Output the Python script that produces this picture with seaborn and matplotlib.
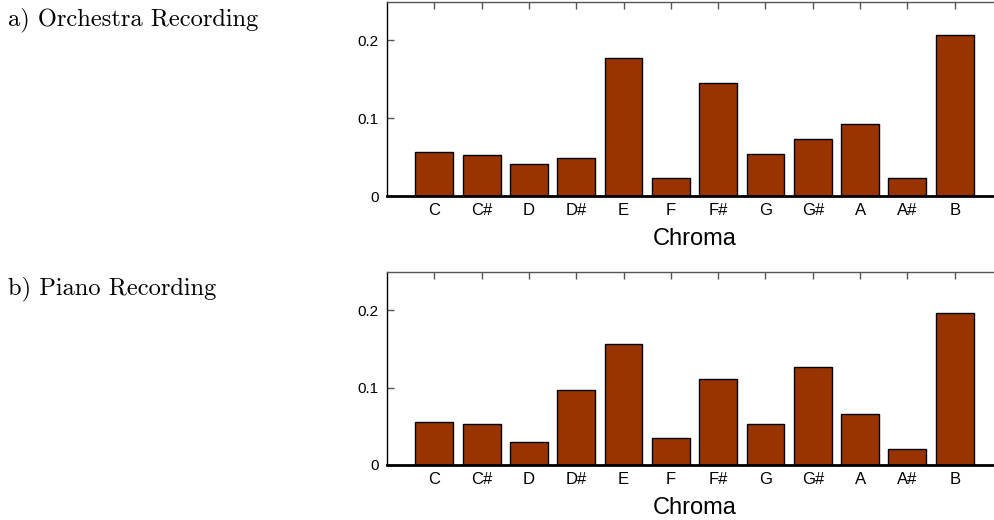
import matplotlib
matplotlib.use("Agg")
import matplotlib.pyplot as plt
import seaborn as sns
import pandas as pd

chroma = ["C", "C#", "D", "D#", "E", "F", "F#", "G", "G#", "A", "A#", "B"]
orchestra = [0.056, 0.053, 0.041, 0.049, 0.177, 0.023, 0.145, 0.054, 0.073, 0.093, 0.023, 0.207]
piano = [0.055, 0.053, 0.030, 0.097, 0.156, 0.035, 0.111, 0.053, 0.127, 0.066, 0.021, 0.196]
panel_titles = ["a) Orchestra Recording", "b) Piano Recording"]
y_ticks = [0, 0.1, 0.2]
y_tick_labels = ["0", "0.1", "0.2"]

sns.set_theme(style="white")
plt.rcParams["font.family"] = ["Liberation Sans", "DejaVu Sans"]
plt.rcParams["text.color"] = "black"
plt.rcParams["axes.labelcolor"] = "black"
plt.rcParams["xtick.labelcolor"] = "black"
plt.rcParams["ytick.labelcolor"] = "black"

W, H = 994, 520
fig = plt.figure(figsize=(W / 100, H / 100), dpi=100)

bar_color = "#993300"
left = 387 / W
width = 615 / W
panels = [
    (orchestra, (H - 196) / H, 194.5 / H, 20 / H),
    (piano, (H - 465) / H, 193.5 / H, 289 / H),
]

for (values, bottom, height, title_y), title in zip(panels, panel_titles):
    ax = fig.add_axes([left, bottom, width, height])
    df = pd.DataFrame({"Chroma": chroma, "value": values})
    sns.barplot(data=df, x="Chroma", y="value", color=bar_color,
                edgecolor="black", linewidth=1.0, width=0.8,
                saturation=1, ax=ax)
    ax.set_xlim(-1, 12)
    ax.set_ylim(0, 0.25)
    ax.set_yticks(y_ticks)
    ax.set_yticklabels(y_tick_labels)
    ax.set_ylabel("")
    ax.set_xlabel("Chroma", fontsize=17, labelpad=7)
    ax.tick_params(axis="x", which="both", bottom=False, top=True,
                   direction="in", length=5, width=1, color="#555555",
                   labelsize=12, pad=5)
    ax.tick_params(axis="y", which="both", left=True, right=False,
                   direction="in", length=5, width=1, color="#555555",
                   labelsize=11, pad=6)
    for side in ["top", "right"]:
        ax.spines[side].set_color("#555555")
        ax.spines[side].set_linewidth(1.0)
    ax.spines["left"].set_color("black")
    ax.spines["left"].set_linewidth(1.0)
    ax.spines["bottom"].set_color("black")
    ax.spines["bottom"].set_linewidth(2.0)
    fig.text(8 / W, 1 - title_y, title, fontsize=17.6, family="cmr10",
             ha="left", va="center")

fig.savefig("out.png", dpi=100)
